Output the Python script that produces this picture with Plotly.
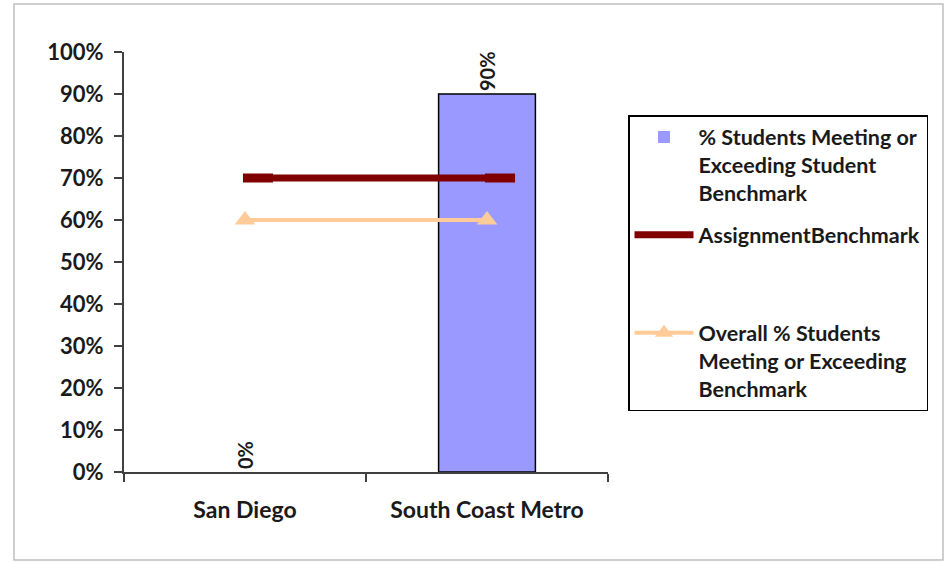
import plotly.graph_objects as go

# ---- data ----
categories = ["San Diego", "South Coast Metro"]
pct_meeting = [0, 90]
assignment_benchmark = [70, 70]
overall_pct = [60, 60]
y_tick_vals = [0, 10, 20, 30, 40, 50, 60, 70, 80, 90, 100]
y_tick_text = [f"{v}%" for v in y_tick_vals]
bar_labels = [f"{v}%" for v in pct_meeting]

FONT = "Lato"
TXT = "#1a1a1a"
AX = "#404040"

W, H = 951, 563
L, R, T, B = 124, 343, 52, 91
PW, PH = W - L - R, H - T - B

fig = go.Figure()

fig.add_trace(go.Bar(
    x=categories, y=pct_meeting,
    name="% Students Meeting or<br>Exceeding Student<br>Benchmark",
    marker=dict(color="#9999FF",
                line=dict(color="#000000",
                          width=[1.5 if v > 0 else 0 for v in pct_meeting])),
    width=0.40,
    text=bar_labels, textposition="outside", textangle=-90,
    textfont=dict(family=FONT, size=20, color=TXT, weight="bold"),
    cliponaxis=False,
    legendgroup="a",
))

fig.add_trace(go.Scatter(
    x=categories, y=assignment_benchmark,
    name="AssignmentBenchmark<br>\u00a0<br>\u00a0",
    mode="lines",
    line=dict(color="#800000", width=7),
    legendgroup="b",
))

# dash markers (Excel style, drawn slightly right of the category centre)
shift = 13 / (PW / 2)
fig.add_trace(go.Scatter(
    x=categories, y=assignment_benchmark,
    mode="markers", xaxis="x2", showlegend=False, hoverinfo="skip",
    marker=dict(symbol="line-ew", size=21.5,
                line=dict(color="#800000", width=9)),
))

fig.add_trace(go.Scatter(
    x=categories, y=overall_pct,
    name="Overall % Students<br>Meeting or Exceeding<br>Benchmark",
    mode="lines+markers",
    line=dict(color="#FFCC99", width=4),
    marker=dict(symbol="triangle-up", size=18, color="#FFCC99"),
    legendgroup="c",
))

fig.update_layout(
    width=W, height=H,
    margin=dict(l=L, r=R, t=T, b=B),
    paper_bgcolor="white", plot_bgcolor="white",
    font=dict(family=FONT, color=TXT),
    showlegend=True,
    legend=dict(
        x=(628 - L) / PW, xanchor="left",
        y=(H - B - 115) / PH, yanchor="top",
        bordercolor="#000000", borderwidth=1.5,
        font=dict(family=FONT, size=21.5, color=TXT, weight="bold"),
        valign="top", tracegroupgap=11, itemwidth=59,
        traceorder="grouped",
    ),
    xaxis=dict(
        type="category", range=[-0.5, 1.5],
        showline=True, linecolor=AX, linewidth=2,
        ticks="outside", tickson="boundaries", ticklen=8, tickwidth=2, tickcolor=AX,
        tickfont=dict(family=FONT, size=23, color=TXT, weight="bold"),
        ticklabelstandoff=16,
        showgrid=False, zeroline=False,
    ),
    xaxis2=dict(
        type="category", overlaying="x", visible=False,
        range=[-0.5 - shift, 1.5 - shift],
    ),
    yaxis=dict(
        range=[0, 100], tickvals=y_tick_vals, ticktext=y_tick_text,
        showline=True, linecolor=AX, linewidth=2,
        ticks="outside", ticklen=8, tickwidth=2, tickcolor=AX,
        tickfont=dict(family=FONT, size=22, color=TXT, weight="bold"),
        ticklabelstandoff=6,
        showgrid=False, zeroline=False,
    ),
    shapes=[dict(
        type="rect", xref="paper", yref="paper",
        x0=(14 - L) / PW, x1=(943 - L) / PW,
        y0=(H - B - 560) / PH, y1=(H - B - 4) / PH,
        line=dict(color="#BFBFBF", width=1.5), fillcolor="rgba(0,0,0,0)",
        layer="below",
    )],
)

fig.write_html("out.html", config={"displayModeBar": False},
               post_script="document.body.style.margin='0px';document.body.style.overflow='hidden';")
